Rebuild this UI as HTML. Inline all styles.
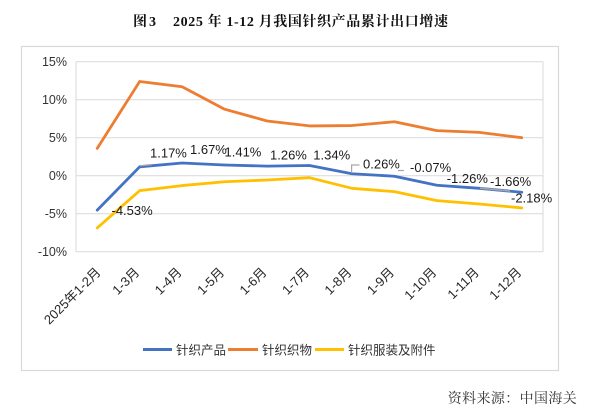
<!DOCTYPE html>
<html>
<head>
<meta charset="utf-8">
<style>
  html,body{margin:0;padding:0;background:#fff;}
  svg{display:block;}
  .tick{font-family:"Liberation Sans","Noto Sans CJK SC",sans-serif;font-size:12.5px;fill:#333;}
  .dl{font-family:"Liberation Sans","Noto Sans CJK SC",sans-serif;font-size:13px;fill:#1a1a1a;}
  .xl{font-family:"Liberation Sans","Noto Sans CJK SC",sans-serif;font-size:13px;fill:#262626;}
  .lg{font-family:"Liberation Sans","Noto Sans CJK SC",sans-serif;font-size:12.5px;fill:#333;}
  .title{font-family:"Liberation Serif","Noto Serif CJK SC",serif;font-size:14px;font-weight:bold;fill:#111;}
  .src{font-family:"Liberation Serif","Noto Serif CJK SC",serif;font-size:14px;fill:#333;}
</style>
</head>
<body>
<svg width="600" height="414" viewBox="0 0 600 414" xmlns="http://www.w3.org/2000/svg">
  <rect x="0" y="0" width="600" height="414" fill="#fff"/>
  <!-- title -->
  <text class="title" x="133" y="26">图</text>
  <text class="title" x="149" y="26">3</text>
  <text class="title" x="173" y="26" textLength="275" lengthAdjust="spacing">2025 年 1-12 月我国针织产品累计出口增速</text>

  <!-- chart frame -->
  <rect x="21.5" y="46.5" width="537" height="324" fill="#fff" stroke="#d9d9d9" stroke-width="1.2"/>

  <!-- gridlines -->
  <g stroke="#d9d9d9" stroke-width="1">
    <line x1="76" y1="61.7" x2="543" y2="61.7"/>
    <line x1="76" y1="99.7" x2="543" y2="99.7"/>
    <line x1="76" y1="137.7" x2="543" y2="137.7"/>
    <line x1="76" y1="175.7" x2="543" y2="175.7"/>
    <line x1="76" y1="213.7" x2="543" y2="213.7"/>
    <line x1="76" y1="251.7" x2="543" y2="251.7"/>
    <line x1="76" y1="61.7" x2="76" y2="251.7"/>
    <line x1="543" y1="61.7" x2="543" y2="251.7"/>
  </g>

  <!-- y ticks -->
  <g class="tick" text-anchor="end">
    <text x="67" y="66">15%</text>
    <text x="67" y="104">10%</text>
    <text x="67" y="142">5%</text>
    <text x="67" y="180">0%</text>
    <text x="67" y="218">-5%</text>
    <text x="67" y="256">-10%</text>
  </g>

  <!-- series -->
  <g fill="none" stroke-width="2.8" stroke-linejoin="round" stroke-linecap="round">
    <polyline stroke="#ED7D31" points="97.23,148.34 139.68,81.46 182.14,86.78 224.59,109.2 267.05,120.98 309.5,125.92 351.95,125.54 394.41,121.74 436.86,130.63 479.32,132.38 521.77,137.7"/>
    <polyline stroke="#FFC000" points="97.23,227.91 139.68,190.67 182.14,185.58 224.59,181.78 267.05,180.03 309.5,177.68 351.95,188.32 394.41,191.66 436.86,200.63 479.32,203.97 521.77,207.92"/>
    <polyline stroke="#4472C4" points="97.23,210.13 139.68,166.81 182.14,163.01 224.59,164.98 267.05,166.12 309.5,165.52 351.95,173.72 394.41,176.23 436.86,185.28 479.32,188.32 521.77,192.27"/>
  </g>

  <!-- leader lines -->
  <g fill="none" stroke="#a6a6a6" stroke-width="1.2">
    <polyline points="351.6,173 351.6,165 359.5,165"/>
    <line x1="398" y1="170.5" x2="404" y2="170.5"/>
    <line x1="140" y1="165.8" x2="152" y2="164.6" stroke-width="1.4"/>
    <line x1="480" y1="188.2" x2="510" y2="191.1" stroke-width="1.6"/>
  </g>

  <!-- data labels -->
  <g class="dl">
    <text x="111.5" y="215">-4.53%</text>
    <text x="150" y="157.3">1.17%</text>
    <text x="190" y="154.2">1.67%</text>
    <text x="224.5" y="156.6">1.41%</text>
    <text x="270" y="159.5">1.26%</text>
    <text x="313.3" y="159.5">1.34%</text>
    <text x="363" y="168.5">0.26%</text>
    <text x="410" y="172">-0.07%</text>
    <text x="446.7" y="182.8">-1.26%</text>
    <text x="490" y="186">-1.66%</text>
    <text x="511" y="202.7">-2.18%</text>
  </g>

  <!-- x labels -->
  <g class="xl" text-anchor="end">
    <text transform="translate(101.5,273) rotate(-45)">2025年1-2月</text>
    <text transform="translate(140.2,273) rotate(-45)">1-3月</text>
    <text transform="translate(182.6,273) rotate(-45)">1-4月</text>
    <text transform="translate(225.1,273) rotate(-45)">1-5月</text>
    <text transform="translate(267.5,273) rotate(-45)">1-6月</text>
    <text transform="translate(310,273) rotate(-45)">1-7月</text>
    <text transform="translate(352.4,273) rotate(-45)">1-8月</text>
    <text transform="translate(394.9,273) rotate(-45)">1-9月</text>
    <text transform="translate(437.3,273) rotate(-45)">1-10月</text>
    <text transform="translate(479.8,273) rotate(-45)">1-11月</text>
    <text transform="translate(522.3,273) rotate(-45)">1-12月</text>
  </g>

  <!-- legend -->
  <g stroke-width="3" stroke-linecap="butt">
    <line x1="143" y1="349.5" x2="172" y2="349.5" stroke="#4472C4"/>
    <line x1="228" y1="349.5" x2="258" y2="349.5" stroke="#ED7D31"/>
    <line x1="315" y1="349.5" x2="344" y2="349.5" stroke="#FFC000"/>
  </g>
  <g class="lg">
    <text x="176" y="354.5">针织产品</text>
    <text x="262" y="354.5">针织织物</text>
    <text x="348" y="354.5">针织服装及附件</text>
  </g>

  <!-- source -->
  <text class="src" x="447.7" y="403" textLength="129" lengthAdjust="spacing">资料来源：中国海关</text>
</svg>
</body>
</html>
